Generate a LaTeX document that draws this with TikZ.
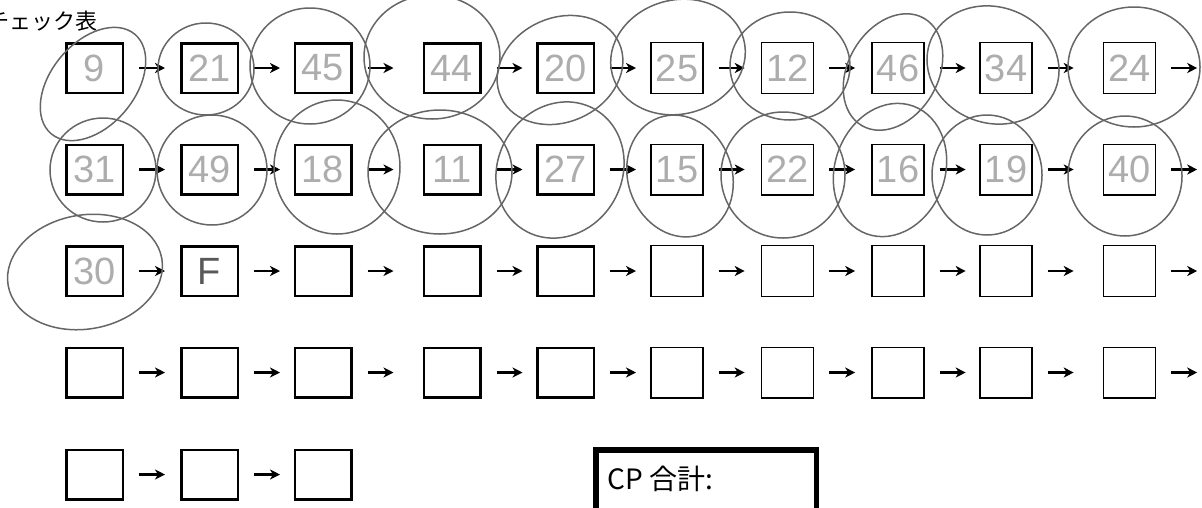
\documentclass[tikz,border=0pt]{standalone}
\usepackage{fontspec}
\setmainfont{Liberation Sans}
\newfontfamily\jp{Noto Sans CJK JP}
\usetikzlibrary{arrows.meta}
\tikzset{slot/.style={draw, line width=2.5pt, minimum width=56.5pt, minimum height=49.5pt, text=black!32, font=\fontsize{38}{38}\selectfont}}
\tikzset{slotthin/.style={slot, line width=1.4pt, minimum width=52pt, minimum height=50.6pt}}
\tikzset{link/.style={line width=2.3pt, -{Stealth[length=10pt,width=10pt,inset=3pt]}}}
\tikzset{ring/.style={draw=black!60, line width=1.5pt}}
\tikzset{total/.style={draw, line width=5.5pt, minimum width=220.5pt, minimum height=100pt}}

\begin{document}
\begin{tikzpicture}[x=1pt,y=-1pt,every node/.style={inner sep=0}]
\useasboundingbox (0,0) rectangle (1202,507);
% Title
\node[anchor=base west, font=\jp\fontsize{22}{22}\selectfont] (title) at (-13,29) {チェック表};
%% Row 1
\node[slot] (b11) at (94.5,68) {9};
\node[slot] (b12) at (209.5,68) {21};
\node[slot] (b13) at (323,68) {45};
\node[slot] (b14) at (452,68) {44};
\node[slot] (b15) at (565.5,68) {20};
\node[slotthin] (b16) at (677,68) {25};
\node[slotthin] (b17) at (787.5,68) {12};
\node[slotthin] (b18) at (898,68) {46};
\node[slotthin] (b19) at (1006,68) {34};
\node[slotthin] (b110) at (1129.5,68) {24};
%% Row 2
\node[slot] (b21) at (94.5,169.5) {31};
\node[slot] (b22) at (209.5,169.5) {49};
\node[slot] (b23) at (323,169.5) {18};
\node[slot] (b24) at (452,169.5) {11};
\node[slot] (b25) at (565.5,169.5) {27};
\node[slotthin] (b26) at (677,169.5) {15};
\node[slotthin] (b27) at (787.5,169.5) {22};
\node[slotthin] (b28) at (898,169.5) {16};
\node[slotthin] (b29) at (1006,169.5) {19};
\node[slotthin] (b210) at (1129.5,169.5) {40};
%% Row 3
\node[slot] (b31) at (94.5,271) {30};
\node[slot, text=black!65] (b32) at (209.5,271) {F};
\node[slot] (b33) at (323,271) {};
\node[slot] (b34) at (452,271) {};
\node[slot] (b35) at (565.5,271) {};
\node[slotthin] (b36) at (677,271) {};
\node[slotthin] (b37) at (787.5,271) {};
\node[slotthin] (b38) at (898,271) {};
\node[slotthin] (b39) at (1006,271) {};
\node[slotthin] (b310) at (1129.5,271) {};
%% Row 4
\node[slot] (b41) at (94.5,372.5) {};
\node[slot] (b42) at (209.5,372.5) {};
\node[slot] (b43) at (323,372.5) {};
\node[slot] (b44) at (452,372.5) {};
\node[slot] (b45) at (565.5,372.5) {};
\node[slotthin] (b46) at (677,372.5) {};
\node[slotthin] (b47) at (787.5,372.5) {};
\node[slotthin] (b48) at (898,372.5) {};
\node[slotthin] (b49) at (1006,372.5) {};
\node[slotthin] (b410) at (1129.5,372.5) {};
%% Row 5
\node[slot] (b51) at (94.5,474.5) {};
\node[slot] (b52) at (209.5,474.5) {};
\node[slot] (b53) at (323,474.5) {};
% Arrows row 1
\draw[link] (b11.east) ++ (15,0) --++ (26,0);
\draw[link] (b12.east) ++ (15,0) --++ (26,0);
\draw[link] (b13.east) ++ (15,0) --++ (26,0);
\draw[link] (b14.east) ++ (15,0) --++ (26,0);
\draw[link] (b15.east) ++ (15,0) --++ (26,0);
\draw[link] (b16.east) ++ (15,0) --++ (26,0);
\draw[link] (b17.east) ++ (15,0) --++ (26,0);
\draw[link] (b18.east) ++ (15,0) --++ (26,0);
\draw[link] (b19.east) ++ (15,0) --++ (26,0);
\draw[link] (b110.east) ++ (15,0) --++ (26,0);
% Arrows row 2
\draw[link] (b21.east) ++ (15,0) --++ (26,0);
\draw[link] (b22.east) ++ (15,0) --++ (26,0);
\draw[link] (b23.east) ++ (15,0) --++ (26,0);
\draw[link] (b24.east) ++ (15,0) --++ (26,0);
\draw[link] (b25.east) ++ (15,0) --++ (26,0);
\draw[link] (b26.east) ++ (15,0) --++ (26,0);
\draw[link] (b27.east) ++ (15,0) --++ (26,0);
\draw[link] (b28.east) ++ (15,0) --++ (26,0);
\draw[link] (b29.east) ++ (15,0) --++ (26,0);
\draw[link] (b210.east) ++ (15,0) --++ (26,0);
% Arrows row 3
\draw[link] (b31.east) ++ (15,0) --++ (26,0);
\draw[link] (b32.east) ++ (15,0) --++ (26,0);
\draw[link] (b33.east) ++ (15,0) --++ (26,0);
\draw[link] (b34.east) ++ (15,0) --++ (26,0);
\draw[link] (b35.east) ++ (15,0) --++ (26,0);
\draw[link] (b36.east) ++ (15,0) --++ (26,0);
\draw[link] (b37.east) ++ (15,0) --++ (26,0);
\draw[link] (b38.east) ++ (15,0) --++ (26,0);
\draw[link] (b39.east) ++ (15,0) --++ (26,0);
\draw[link] (b310.east) ++ (15,0) --++ (26,0);
% Arrows row 4
\draw[link] (b41.east) ++ (15,0) --++ (26,0);
\draw[link] (b42.east) ++ (15,0) --++ (26,0);
\draw[link] (b43.east) ++ (15,0) --++ (26,0);
\draw[link] (b44.east) ++ (15,0) --++ (26,0);
\draw[link] (b45.east) ++ (15,0) --++ (26,0);
\draw[link] (b46.east) ++ (15,0) --++ (26,0);
\draw[link] (b47.east) ++ (15,0) --++ (26,0);
\draw[link] (b48.east) ++ (15,0) --++ (26,0);
\draw[link] (b49.east) ++ (15,0) --++ (26,0);
\draw[link] (b410.east) ++ (15,0) --++ (26,0);
% Arrows row 5
\draw[link] (b51.east) ++ (15,0) --++ (26,0);
\draw[link] (b52.east) ++ (15,0) --++ (26,0);
% Circles row 1
\draw[ring, rotate around={50:(93,84)}] (93,84) ellipse (65 and 42);
\draw[ring] (206,69) ellipse (48 and 46);
\draw[ring] (310,66) ellipse (60 and 58);
\draw[ring] (432,57) ellipse (68 and 62);
\draw[ring, rotate around={25:(560,70)}] (560,70) ellipse (65 and 52);
\draw[ring, rotate around={15:(678,57)}] (678,57) ellipse (68 and 57);
\draw[ring] (790,66) ellipse (60 and 54);
\draw[ring, rotate around={60:(893,72)}] (893,72) ellipse (62 and 45);
\draw[ring, rotate around={-20:(993,65)}] (993,65) ellipse (67 and 58);
\draw[ring] (1134,67) ellipse (66 and 60);
% Circles row 2
\draw[ring] (103,170) ellipse (53 and 52);
\draw[ring] (212,170) ellipse (55 and 55);
\draw[ring] (337,167) ellipse (63 and 67);
\draw[ring] (440,172) ellipse (72 and 62);
\draw[ring, rotate around={-30:(560,170)}] (560,170) ellipse (62 and 70);
\draw[ring, rotate around={20:(680,176)}] (680,176) ellipse (52 and 62);
\draw[ring] (783,175) ellipse (62 and 63);
\draw[ring, rotate around={-20:(890,170)}] (890,170) ellipse (55 and 68);
\draw[ring] (987,175) ellipse (55 and 60);
\draw[ring] (1125,176) ellipse (57 and 60);
% Circle row 3
\draw[ring, rotate around={10:(85,272)}] (85,272) ellipse (78 and 57);
% CP total
\node[total, anchor=north west] (cp) at (593,447) {};
\node[anchor=base west, font=\jp\fontsize{28}{28}\selectfont] (cplabel) at (607,489) {CP 合計:};
\end{tikzpicture}
\end{document}
